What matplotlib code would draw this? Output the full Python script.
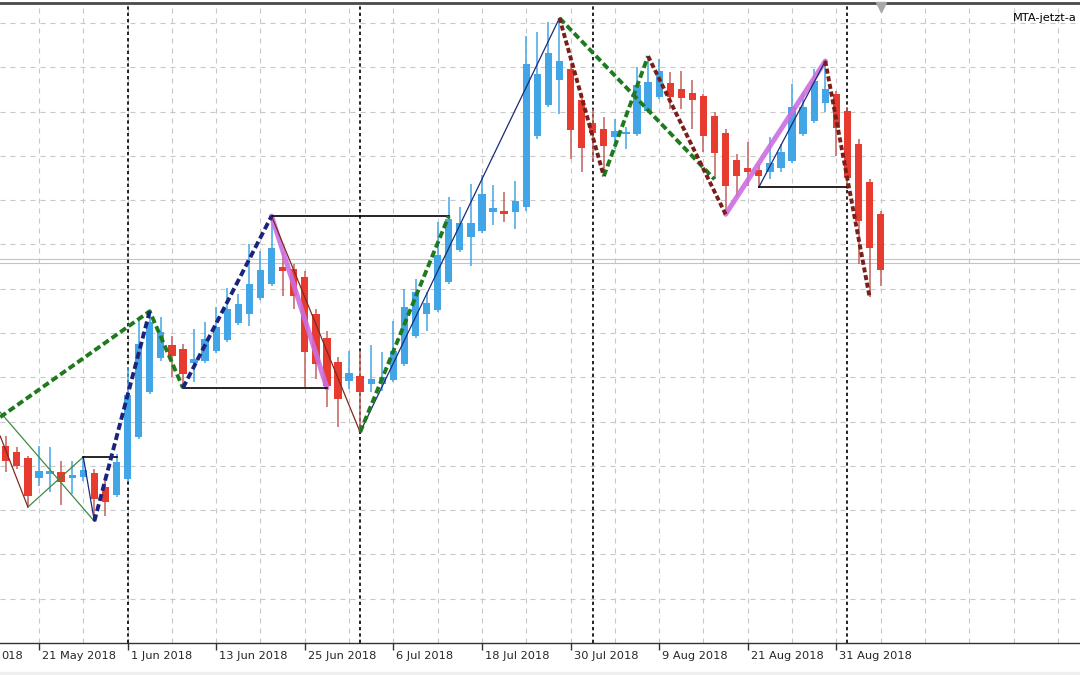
import numpy as np
import matplotlib.pyplot as plt
import matplotlib.transforms as mtransforms

# daily candles (price in grid units)
opens  = [4.45, 4.31, 4.18, 3.73, 3.82, 3.86, 3.73, 3.75, 3.84, 3.52,
          3.34, 3.70, 4.65, 5.67, 6.43, 6.73, 6.64, 6.32, 6.37, 6.59,
          6.84, 7.22, 7.43, 7.79, 8.10, 8.49, 8.44, 8.26, 7.43, 6.89,
          6.34, 5.91, 6.03, 5.85, 5.85, 5.94, 6.30, 6.93, 7.43, 7.52,
          8.15, 8.87, 9.17, 9.30, 9.73, 9.75, 9.73, 9.84, 11.45, 12.14,
          12.71, 12.96, 12.26, 11.74, 11.60, 11.42, 11.49, 11.49, 12.01, 12.33,
          12.64, 12.51, 12.42, 12.35, 11.90, 11.51, 10.90, 10.72, 10.68, 10.63,
          10.72, 10.88, 11.49, 11.78, 12.19, 12.39, 12.01, 11.26, 10.41, 9.68]
highs  = [4.67, 4.42, 4.22, 4.45, 4.42, 4.11, 4.11, 4.20, 3.93, 3.70,
          4.27, 6.23, 7.27, 7.49, 7.36, 6.93, 6.75, 7.09, 7.25, 7.59,
          8.01, 7.88, 9.01, 8.85, 9.64, 8.83, 8.56, 8.40, 7.54, 7.04,
          6.46, 6.59, 6.59, 6.73, 6.57, 7.27, 7.99, 8.22, 7.92, 9.50,
          10.07, 9.84, 10.36, 10.56, 10.34, 10.18, 10.43, 13.70, 13.79, 14.02,
          14.11, 13.07, 12.39, 12.05, 11.87, 11.83, 11.65, 13.00, 13.25, 13.18,
          12.89, 12.91, 12.71, 12.39, 11.99, 11.60, 11.04, 11.31, 10.81, 11.42,
          11.26, 12.62, 12.44, 12.96, 13.14, 12.46, 12.10, 11.38, 10.47, 9.75]
lows   = [3.86, 3.93, 3.07, 3.54, 3.41, 3.12, 3.36, 3.66, 2.75, 2.87,
          3.30, 3.66, 4.61, 5.62, 6.37, 6.01, 5.76, 5.89, 6.32, 6.55,
          6.80, 7.18, 7.16, 7.74, 8.06, 7.83, 7.54, 5.78, 5.96, 5.33,
          4.88, 5.73, 4.76, 5.67, 5.69, 5.89, 6.25, 6.89, 7.04, 7.47,
          8.10, 8.83, 8.51, 9.26, 9.44, 9.50, 9.35, 9.75, 11.38, 12.10,
          11.94, 10.93, 10.63, 10.88, 10.54, 11.15, 11.15, 11.45, 11.96, 12.28,
          12.05, 12.05, 11.60, 11.08, 10.47, 9.68, 10.09, 10.32, 10.29, 10.47,
          10.63, 10.84, 11.45, 11.74, 11.99, 10.99, 10.25, 8.56, 7.81, 8.06]
closes = [4.11, 4.00, 3.32, 3.88, 3.88, 3.63, 3.79, 3.91, 3.25, 3.18,
          4.09, 5.60, 6.75, 7.25, 7.02, 6.48, 6.07, 6.41, 6.86, 7.13,
          7.54, 7.65, 8.10, 8.42, 8.92, 8.40, 7.83, 6.57, 6.30, 5.80,
          5.51, 6.10, 5.67, 5.96, 6.01, 6.59, 7.59, 7.92, 7.68, 8.76,
          9.57, 9.48, 9.48, 10.14, 9.82, 9.68, 9.98, 13.07, 12.84, 13.32,
          13.14, 11.58, 11.17, 11.51, 11.22, 11.56, 11.54, 12.60, 12.66, 12.91,
          12.33, 12.30, 12.26, 11.45, 11.06, 10.32, 10.54, 10.63, 10.54, 10.84,
          11.08, 12.10, 12.10, 12.69, 12.51, 11.63, 10.50, 9.53, 8.92, 8.42]

tick_bars = [3, 11, 19, 27, 35, 43, 51, 59, 67, 75]
tick_labels = ["21 May 2018", "1 Jun 2018", "13 Jun 2018", "25 Jun 2018",
               "6 Jul 2018", "18 Jul 2018", "30 Jul 2018", "9 Aug 2018", "21 Aug 2018",
               "31 Aug 2018"]
cut_label = "018"   # tail of the previous date label, cut by the left edge
separator_bars = [11, 32, 53, 76]
bid_price = 8.62

# zigzag objects, (bar, price) pairs
green_dash = [[(-0.5, 5.10), (13, 7.49), (16, 5.76)], [(32, 4.76), (40, 9.64)],
              [(50, 14.11), (64, 10.47)], [(54, 10.54), (58, 13.25)]]
navy_dash = [[(8, 2.75), (13, 7.49)], [(16, 5.76), (24, 9.64)]]
maroon_dash = [[(50, 14.11), (54, 10.54)], [(58, 13.25), (65, 9.68)], [(74, 13.14), (78, 7.81)]]
purple_line = [[(24, 9.64), (29, 5.76)], [(65, 9.68), (74, 13.14)]]
thin_green = [[(-0.5, 5.21), (8, 2.75)], [(2, 3.07), (7, 4.20)]]
thin_maroon = [[(-0.5, 4.67), (2, 3.07)], [(24, 9.64), (32, 4.76)]]
thin_navy = [[(7, 4.20), (8, 2.75)], [(32, 4.76), (50, 14.11)], [(68, 10.29), (74, 13.14)]]
levels = [(7, 10, 4.20), (16, 29, 5.76), (24, 40, 9.64), (68, 76, 10.29)]

BULL = "#42a5e6"
BEAR = "#e63b2e"
BEAR_WICK = "#c0625a"

fig = plt.figure(figsize=(10.8, 6.75), dpi=100)
fig.patches.append(plt.Rectangle((0, 0), 1, 3 / 675, transform=fig.transFigure,
                                 color="#efefef", zorder=0))
ax = fig.add_axes([0, 32 / 675, 1, 640 / 675])
ax.set_xlim(-0.52, 97.0)
ax.set_ylim(0, 14.45)

# grid
for g in range(-1, 97, 4):
    ax.axvline(g, color="#c8c8c8", lw=0.8, ls=(0, (4.5, 4.5)), zorder=0)
for g in range(1, 15):
    ax.axhline(g, color="#c8c8c8", lw=0.8, ls=(0, (4.5, 4.5)), zorder=0)

ax.axhline(bid_price + 0.04, color="#c4c4c4", lw=0.8, zorder=1)
ax.axhline(bid_price - 0.04, color="#c4c4c4", lw=0.8, zorder=1)

for s in separator_bars:
    ax.axvline(s, color="black", lw=1.2, ls=(0, (2, 1.8)), zorder=1)

# candles
o = np.array(opens); h = np.array(highs); l = np.array(lows); c = np.array(closes)
idx = np.arange(len(o))
up = c >= o
ax.vlines(idx[up], l[up], h[up], color=BULL, lw=1.1, zorder=2)
ax.vlines(idx[~up], l[~up], h[~up], color=BEAR_WICK, lw=1.1, zorder=2)
body_lo = np.minimum(o, c)
body_h = np.maximum(np.abs(c - o), 0.05)
ax.bar(idx[up], body_h[up], bottom=body_lo[up], width=0.66, color=BULL, zorder=3)
ax.bar(idx[~up], body_h[~up], bottom=body_lo[~up], width=0.66, color=BEAR, zorder=3)

def draw(segs, **kw):
    for seg in segs:
        xs, ys = zip(*seg)
        ax.plot(xs, ys, **kw)

draw(purple_line, color="#cc6ee0", lw=3.6, alpha=0.9, solid_capstyle="round", zorder=4)
draw(thin_green, color="#3f8a3f", lw=0.9, zorder=5)
draw(thin_maroon, color="#7d2a22", lw=0.9, zorder=5)
draw(thin_navy, color="#1b2a7a", lw=0.9, zorder=5)
for x0, x1, y in levels:
    ax.plot([x0, x1], [y, y], color="black", lw=1.2, zorder=5)
draw(green_dash, color="#1d7a1d", lw=2.8, ls=(0, (1.8, 0.9)), zorder=6)
draw(navy_dash, color="#1a237e", lw=2.8, ls=(0, (1.8, 0.9)), zorder=6)
draw(maroon_dash, color="#7a1e1a", lw=2.8, ls=(0, (1.3, 0.7)), zorder=6)

# frame
for side in ["left", "right"]:
    ax.spines[side].set_visible(False)
ax.spines["top"].set_color("#4a4a4a")
ax.spines["top"].set_linewidth(2)
ax.spines["bottom"].set_color("#333333")
ax.spines["bottom"].set_linewidth(1)
ax.set_yticks([])
ax.set_xticks(tick_bars)
ax.set_xticklabels([])
ax.tick_params(axis="x", direction="out", length=5, width=1, color="#333333")

trans = mtransforms.blended_transform_factory(ax.transData, ax.transAxes) + \
    mtransforms.ScaledTranslation(0.03, -0.13, fig.dpi_scale_trans)
for b, lab in zip(tick_bars, tick_labels):
    ax.text(b, 0, lab, transform=trans, ha="left", va="center", fontsize=8.2,
            color="#262626", clip_on=False)
ax.text(0.001, 0, cut_label, transform=ax.transAxes + mtransforms.ScaledTranslation(0, -0.13, fig.dpi_scale_trans),
        ha="left", va="center", fontsize=8.2, color="#262626", clip_on=False)

ax.plot([79], [14.35], marker="v", markersize=7, color="#a8a8a8", clip_on=False, zorder=7)
ax.text(0.938, 0.977, "MTA-jetzt-a", transform=ax.transAxes, fontsize=8.2,
        ha="left", va="center", color="black")

fig.savefig("out.png", dpi=100)
